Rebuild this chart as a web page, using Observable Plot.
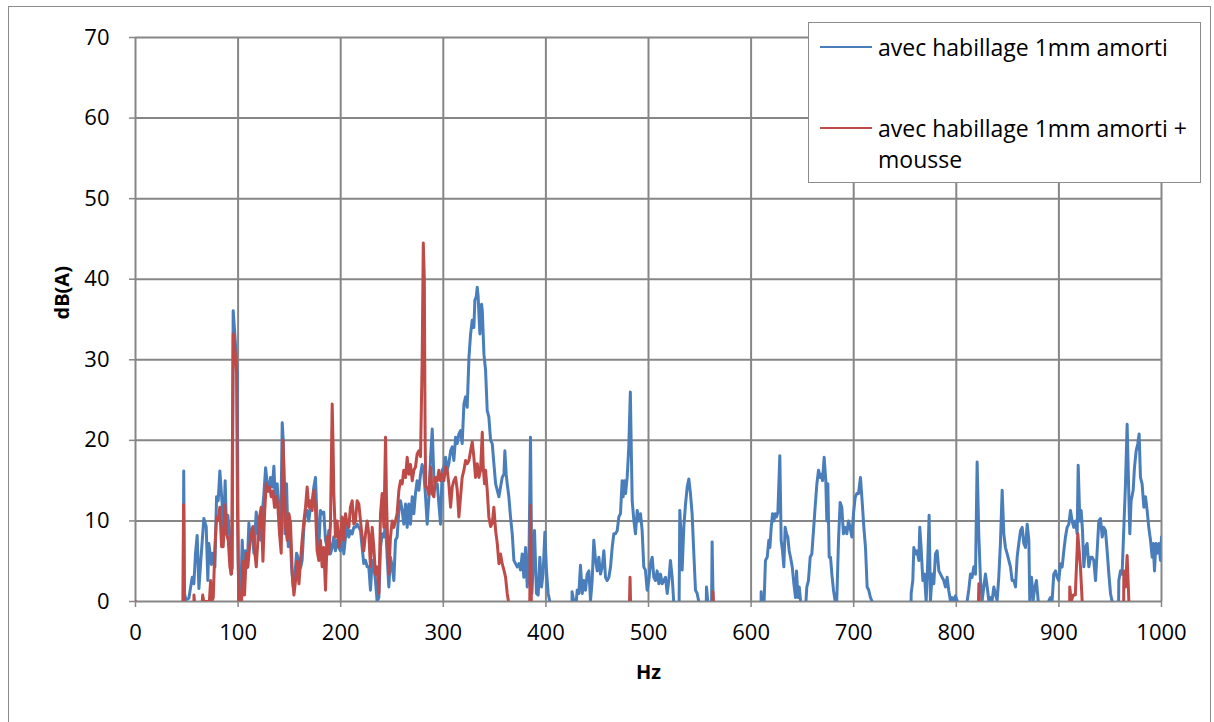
<!DOCTYPE html>
<html>
<head>
<meta charset="utf-8">
<script src="https://cdn.jsdelivr.net/npm/d3@7"></script>
<script src="https://cdn.jsdelivr.net/npm/@observablehq/plot@0.6"></script>
<style>
  body { margin: 0; background: #fff; }
  #wrap { position: relative; width: 1214px; height: 722px; overflow: hidden; background: #fff; }
  #wrap svg { position: absolute; left: 0; top: 0; }
  #outer { position: absolute; left: 8px; top: 6px; width: 1203px; height: 740px; border: 1px solid #8c8c8c; box-sizing: border-box; pointer-events: none; }
  #legend { position: absolute; left: 808px; top: 22px; width: 393px; height: 161px; border: 1px solid #8c8c8c; background: #fff; box-sizing: border-box; font-family: "Open Sans", sans-serif; font-size: 23px; color: #000; }
  .swatch { position: absolute; left: 11px; width: 52px; height: 2px; }
  .label { position: absolute; left: 69px; line-height: 31px; white-space: pre; }
</style>
</head>
<body>
<div id="wrap">
  <div id="outer"></div>
  <div id="legend"></div>
</div>
<script>
// ---- data ----
const seriesNames = ["avec habillage 1mm amorti", "avec habillage 1mm amorti +\nmousse"];
const seriesColors = ["#4A7EBB", "#BE4B48"];
const xTicks = [0, 100, 200, 300, 400, 500, 600, 700, 800, 900, 1000];
const yTicks = [0, 10, 20, 30, 40, 50, 60, 70];
const xLabel = "Hz";
const yLabel = "dB(A)";

// [Hz, dB(A)] — values below 0 are outside the axis range (clipped)
const blueSeries = [
[0,-15],[45.5,-15],[46.5,0],[47,16.2],[47.8,1],[49,0.2],[52,0.4],[55.3,3],[56.9,2.2],[58.5,6],[60.1,8.2],[61.8,1.6],[63.4,4.6],[66.6,10.3],[68.9,9.3],[70.5,2.6],[71.5,7.2],[74.1,4.6],[75.4,6],[77.4,4.3],[79,13],[80.6,12.5],[82.2,16.2],[84.5,12],[85.8,8.4],[87.4,15],[88.7,8.4],[90,10.7],[91.7,8.4],[93,3.4],[94.3,4.2],[95.2,36.1],[96.5,33.7],[97.8,31.2],[99.1,28.4],[100.1,5],[100.8,0],[102.4,0],[104,7.6],[105.6,3],[107.2,6.3],[108.9,4.2],[110.5,9.7],[112.1,7.6],[113.8,9],[115.4,6],[117.7,11.1],[119.3,8.4],[120.3,10.5],[121.9,7.6],[123.5,10.9],[125.1,13.3],[126.8,16.6],[128.4,14.6],[130,13.7],[131.6,15.4],[133.3,14.2],[134.9,16.8],[136.5,11.7],[138.1,14.6],[139.8,10.9],[141.4,7.6],[143,22.2],[144,20],[145.6,8.4],[147.2,14.6],[148.9,6.8],[150.5,9.3],[152.1,4.3],[153.7,1.8],[155.4,3.4],[157,6],[159.3,5.1],[160.9,4.2],
[162.4,5.1],[164.1,9.2],[165.7,10.9],[167.3,11.3],[168.9,10],[170.5,11.7],[172.2,12.5],[173.8,14.2],[175.4,15.4],[177,10],[178.7,6.7],[180.3,11.3],[181.9,10.9],[183.5,11.1],[185.2,7.6],[186.8,6.7],[188.4,8.8],[190,5.9],[191.7,6.7],[193.3,8],[194.9,6.3],[196.5,7.6],[198.2,6.7],[199.8,6.3],[201.4,9.2],[203,5.9],[204.7,8],[206.3,9.2],[207.9,8],[209.5,8.8],[211.2,8.4],[212.8,9.2],[214.4,9.2],[216,9.6],[217.7,9.2],[219.3,8.8],[220.9,6.7],[222.5,4.7],[224.2,5.1],[225.8,4.3],[227.4,4.3],[229,1.4],[230.7,5.1],[232.3,4.3],[233.9,2.6],[235.5,0],[237.2,0.5],[238.8,6.7],[240.4,8.4],[242.1,8],[243.7,9.6],[245.3,5.5],[246.9,1.8],[248.5,5.5],[250.2,4.3],[251.8,2.6],[253.4,7.6],[255,8],[256.7,11.3],[258.3,12.5],[259.9,11.3],[261.5,9.6],[263.2,12.1],[264.8,9.2],[266.4,12.1],[268,9.6],[269.7,13],[271.3,10.9],[272.9,13.4],[274.5,15],[276.2,13.8],[277.8,15.8],[279.4,17],[281,16],
[282.7,13],[284.3,9.6],[286,13],[287.6,17.9],[289.2,21.4],[290.8,15.4],[292.4,14.2],[294.1,14.6],[295.7,12.1],[297.3,9.6],[298.9,16.3],[300.6,16.7],[302.2,17.9],[303.8,16.3],[305.4,17.1],[307.1,18.7],[308.7,19.2],[310.3,17.5],[312,20.4],[313.6,19.6],[315.2,20.8],[316.8,21.2],[318.4,19.6],[320.1,24.5],[321.7,25.4],[323.3,24.1],[325,30.3],[326.6,33.2],[328.2,34.9],[329.8,34],[330.8,37.4],[332.1,37.8],[333.1,39],[334,37.8],[334.7,35.7],[335.7,33.2],[336.3,36.5],[337.3,36.9],[338,36.1],[339.6,30.7],[341.2,28.7],[342.8,23.7],[344.4,22.9],[346.1,20],[347.7,19.6],[349.3,17.1],[351,14.6],[352.6,13.8],[354.2,13],[355.8,14.2],[357.4,15.4],[359.1,15.8],[360,18.7],[361.3,15.8],[362.3,14.6],[363.9,13],[365.5,10.5],[367.2,8.4],[368.8,5.1],[370.4,4.7],[372,4.3],[373.7,4.7],[375.3,3.9],[376.9,5.9],[378.5,3],[380.2,6.7],[381.8,1.8],[383.4,4.7],[385,20.4],[386.4,1],[388.9,8.8],[390.8,1],[392.5,0.8],[394.1,5.5],[395.7,1.8],[397.3,3.5],[399,8.6],[400.6,3.8],[402.2,1],[403.8,0],[404.8,-15],
[424.5,-15],[425.5,1.2],[427.2,0],[429,-1],[430.5,1.4],[432.1,1],[433.7,4.5],[435.4,1],[437,2.6],[438.6,1.4],[440.2,3.4],[441.9,3.8],[443.5,0.1],[445.1,2.6],[446.7,7.6],[448.4,5.1],[450,3.8],[451.6,5.5],[453.2,3.4],[454.9,4.3],[456.5,6.3],[458.1,3],[459.7,2.6],[461.4,3],[463,4.3],[464.6,6.7],[466.2,8.4],[467.8,8.4],[469.5,8.8],[471.1,10.5],[472.7,10.9],[474.3,15],[475.3,13],[476.6,15],[477.6,13.4],[479.2,15.4],[480.8,19.2],[482.3,26],[483.2,19],[484.1,12.5],[485.7,10.1],[487.3,8.4],[489,11.3],[490.6,10],[492.2,10.9],[493.8,8.8],[495.4,4.3],[497,3.9],[498.7,1.4],[500.3,2.6],[501.9,4.7],[503.6,5.5],[505.2,3],[506.8,2.6],[508.4,3.8],[510.1,2.2],[511.7,3.4],[513.3,2.2],[514.9,2.6],[516.6,3],[518.2,1],[519.8,2.6],[521.4,5.1],[523.1,3],[524.7,-0.3],[526,-15],[529,-15],[530.5,11.3],[531.8,8],[532.8,3.9],[534.4,9.2],[536.1,12.1],[537.7,14.2],[539.3,15.2],[540.9,13.4],[542.5,10.9],[544.2,5.9],[545.8,1.4],[547.4,1],[549,0],[550,-15],[555,-15],[556.5,1.8],[557.8,0],[560.4,-0.5],[561.5,0],[562,7.4],[563,0],[564,-15],
[609,-15],[609.8,1.2],[610.8,-2],[612.4,-1],[614,5.1],[615.7,5.5],[617.3,7.6],[618.3,6.7],[619.6,9.2],[620.9,10.9],[622.2,10],[623.5,10.9],[624.8,10.5],[626.1,11.1],[628,18.1],[629.3,7.6],[630.6,6.3],[631.9,4.3],[633.2,9.2],[634.5,8.4],[635.8,8],[637.1,6.3],[638.4,5.5],[640.1,4.3],[641.7,2.2],[643.3,0.5],[644.3,3.8],[645.6,0.5],[646.9,1.8],[648.2,0.1],[649.8,-1],[653,-1],[654.3,1.8],[655.9,2.6],[657.6,5.5],[659.2,5.9],[660.8,8.8],[662.4,11.7],[664.1,14.6],[665.7,16.3],[667.3,15.4],[668.3,15.8],[669.6,15],[671.2,17.9],[672.8,15],[673.8,10],[674.8,14.6],[676.1,5.5],[677.4,5.5],[678.7,3.4],[680.3,1.4],[681.9,0.1],[683.5,0.1],[685.2,7.6],[686.8,12.3],[688.4,11.7],[690,8.4],[691.7,9.2],[693.3,8.4],[694.9,10],[696.5,9.2],[698.2,8],[699.8,10.9],[701.4,12.9],[703,13.4],[704.7,13.4],[706.6,15.4],[708.2,12.5],[709.9,9.2],[711.5,6.7],[713.1,1.8],[714.7,1.4],[716.3,0.5],[718,0],[719,-15],
[755,-15],[756,1],[757.6,2.6],[758.6,6.7],[760.2,5.9],[761.8,6.3],[763.5,5.1],[764.4,9.2],[765.7,6.7],[767.4,2.6],[769,3.4],[770.6,0],[772.2,5.1],[773.5,10.7],[774.8,0],[776.5,3.4],[778.1,2.2],[779.7,5.9],[781.3,6.3],[783,3.8],[784.6,3.4],[786.2,3],[787.8,2.6],[789.5,1.8],[791.1,3],[792.7,1.3],[794.3,0.1],[795.9,0.5],[797.6,0.1],[799.2,0.7],[800.8,0.1],[802,-1],[809,-1],[810.6,0.1],[812.2,1.5],[813.8,3.4],[815.4,3],[817.1,4.3],[818.7,3.4],[820.3,17.3],[821.9,8.4],[823.6,2.6],[825.2,0.1],[826.8,1.8],[828.4,3.4],[830.1,1.8],[831.7,0.1],[833.3,0.5],[834.9,0.1],[836.6,1.8],[838.2,0.9],[839.8,0.1],[841.4,3],[843,7.2],[844.7,13.8],[846.3,8.4],[847.9,6.7],[849.6,5.9],[851.2,5.1],[852.8,4.3],[854.4,2.6],[856.1,2.6],[857.7,1.8],[859.3,5.5],[860.9,7.2],[862.6,8.8],[864.2,9.2],[865.8,7.2],[867.4,6.7],[869.1,9.6],[870.7,7.6],[871.6,0.1],[873.3,3],[874.9,0.1],[876.5,1.8],[878.1,2.6],[879.8,0.1],[882,-1],[889,-1],[890.2,0.1],[891.8,0.5],[893.4,0.1],[895,3.4],[896.7,3.8],[898.3,3],[899.9,2.6],[901.5,4.7],[903.2,4.3],[904.8,6.3],[906.4,8],[908,9.2],[909.7,9.6],[911.3,11.3],[912.9,10],[914.5,9.2],[916.2,10],[917.8,8.4],[918.8,16.9],[920.4,10],[921.7,11.3],[923,8.8],[924.3,4.3],[925.9,6.7],[927.5,7.2],[929.2,4.3],[930.8,5.5],[932.4,5.5],[934,5.1],[935.7,2.6],[937.3,6.3],[938.9,10],[940.5,10.3],[942.2,8],[943.8,9.2],[945.4,8.8],[947,6.3],[948.7,3.4],[950.3,1],[951.9,0],[953,-15],[957,-15],[958.4,2.6],[960,3.8],[961.6,3.4],[963.3,9.2],[964.9,14.6],[966.5,22],[968.2,13],[969.1,8.4],[970.4,12.5],[972.4,13.8],[973.7,16.7],[975.3,18.7],[976.9,19.6],[978.2,20.8],[979.5,15.4],[981.1,14.6],[982.8,11.7],[984.4,13],[986,11.3],[987.6,9.2],[989.3,7.6],[990.9,5.5],[991.9,7.2],[993.2,3.8],[994.5,7.2],[995.8,6],[997.4,7.2],[999,5.1],[1000,8]
];

const redSeries = [
[0,0],[1,-15],[45.5,-15],[46.3,0],[46.8,12],[47.4,0],[48.2,-15],[56,-15],[57,0.8],[58,-1],[64.5,-1],[65.5,0.8],[66.5,0],[72,0],[73.2,2.6],[74.5,0],[75.8,0.5],[77.4,6.8],[79,10.5],[80.6,10.1],[82.2,11.7],[83.9,6.8],[85.5,6.8],[87.1,12],[88.7,8.4],[90.4,7.6],[92,4.3],[93.6,3.4],[95.2,33.2],[96.9,31.2],[98.5,28.4],[99.5,10],[100.8,0],[103.4,0],[104.7,5],[106.3,0.8],[107.9,6],[109.5,4.3],[111.2,6.8],[112.8,8.4],[114.4,9.3],[116,6.4],[117.7,4.3],[119.3,7.6],[120.9,10.5],[122.5,11.7],[124.2,5],[125.8,10.9],[127.4,14.6],[129,13.7],[130.7,14.2],[132.3,13],[133.9,13.7],[135.5,11.7],[137.2,13],[138.8,11.7],[140.4,8.4],[142,6],[143.7,20],[144.6,16.6],[146.3,9.3],[147.9,7.6],[149.5,10.9],[151.1,9.7],[152.8,3.4],[154.4,0.8],[156,2.6],[157.6,5],[159.3,2.2],[160.9,5.1],
[162.4,7.6],[164.1,10],[165.7,11.7],[167.3,14.2],[168.9,11.7],[170.5,12.5],[172.2,11.3],[173.8,13.8],[175.4,11.7],[177,6.3],[178.7,5.1],[180.3,7.6],[181.9,4.3],[183.5,6.7],[185.2,1.4],[186.8,8],[188.4,5.9],[190,9.6],[191.7,24.5],[192.6,19.2],[193.3,13.4],[194.9,8],[196.5,10],[198.2,6.7],[199.8,8.4],[201.4,10.5],[203,7.6],[204.7,10.9],[206.3,9.6],[207.9,9.2],[209.5,11.7],[211.2,12.5],[212.8,9.6],[214.4,10],[216,12.5],[217.7,12.1],[219.3,10],[220.9,8],[222.5,6.3],[224.2,8.4],[225.8,10],[227.4,8.4],[229,4.3],[230.7,9.2],[232.3,6.7],[233.9,3.4],[235.5,4.3],[237.2,1],[238.8,10.9],[240.4,13.4],[242.1,9.2],[243.7,20.4],[244.6,13],[245.9,6.7],[246.9,3.4],[248.5,8],[250.2,10],[251.8,9.2],[253.4,10],[255,10.9],[256.7,13.8],[258.3,15],[259.9,14.6],[261.5,16.3],[263.2,15.4],[264.8,17.9],[266.4,15.8],[268,17],[269.7,15],[271.3,16.3],[272.9,16.7],[274.5,18.3],[276.2,18.7],[277.8,18],[279.4,30],[280.5,44.5],[281.5,40],[282.3,20],[282.9,14.2],
[284.3,14.2],[286,13.2],[287.6,16.7],[289.2,13.4],[290.8,13],[292.4,15.4],[294.1,15],[295.7,16.3],[297.3,15],[298.9,15.8],[300.6,15],[302.2,16.7],[303.8,16.3],[305.4,14.6],[307.1,11.7],[308.7,14.2],[310.3,15],[312,15.4],[313.6,13.8],[315.2,10.5],[316.8,13],[318.4,15.4],[320.1,16.3],[321.7,17.5],[323.3,17.1],[325,17.5],[326.6,18.7],[328.2,19.8],[329.8,17.9],[331.4,15.4],[333.1,17.1],[334.7,15.4],[336.3,16.3],[338,21],[338.9,16.7],[340.2,14.6],[341.2,16.3],[342.8,13.8],[344.4,10.5],[346.1,9.3],[347.7,9.7],[349.3,11.7],[351,8.8],[352.6,7.2],[354.2,4.7],[355.8,5.9],[357.4,4.7],[359.1,3.9],[360.7,3],[362.3,1],[363.9,-0.3],[365,-15],
[383.5,-15],[384.3,0],[385,11.9],[385.8,0],[386.5,-15],[481,-15],[481.5,0],[482,3],[482.5,0],[483,-15],[562,-15],[562.4,0],[562.8,1.2],[563.2,0],[563.6,-15],[821,-15],[821.6,0],[822,2.2],[822.4,0],[823,-15],[909.5,-15],[910.6,1.8],[912,0],[914,0.8],[916,0.8],[918.4,8.4],[921,4.3],[922.7,0],[923.5,-15],[962.5,-15],[963.3,3.8],[964.9,1.8],[966.5,5.7],[968.2,0],[969,-15],[1000,-15]
];

// ---- chart ----
const toRows = (arr) => arr.map(([hz, db]) => ({hz, db}));
const blueRows = toRows(blueSeries);
const redRows = toRows(redSeries);
const gridColor = "#868686";

const chart = Plot.plot({
  width: 1214,
  height: 722,
  marginLeft: 135,
  marginRight: 53,
  marginTop: 37,
  marginBottom: 121,
  style: { fontFamily: "'Open Sans', sans-serif", fontSize: "22px", color: "#000", background: "transparent", overflow: "visible" },
  x: { domain: [0, 1000], label: null },
  y: { domain: [0, 70], label: null },
  marks: [
    Plot.gridX(xTicks, { stroke: gridColor, strokeOpacity: 1, strokeWidth: 2 }),
    Plot.gridY(yTicks, { stroke: gridColor, strokeOpacity: 1, strokeWidth: 2 }),
    Plot.axisX(xTicks, { tickSize: 6, tickPadding: 17, stroke: gridColor, strokeWidth: 1.5, label: null, fontSize: 22, tickFormat: d => String(d) }),
    Plot.axisY(yTicks, { tickSize: 6, tickPadding: 20, stroke: gridColor, strokeWidth: 1.5, label: null, fontSize: 22, tickFormat: d => String(d) }),
    Plot.line(blueRows, { x: "hz", y: "db", stroke: seriesColors[0], strokeWidth: 3, clip: true, strokeLinejoin: "round" }),
    Plot.line(redRows, { x: "hz", y: "db", stroke: seriesColors[1], strokeWidth: 3, clip: true, strokeLinejoin: "round" }),
    Plot.text([xLabel], { text: d => d, frameAnchor: "bottom", dy: 77, fontWeight: "bold", fontSize: 20 }),
    Plot.text([yLabel], { text: d => d, frameAnchor: "left", dx: -73, rotate: -90, fontWeight: "bold", fontSize: 20 })
  ]
});

const wrap = document.getElementById("wrap");
wrap.insertBefore(chart, wrap.firstChild);

// legend
const legend = document.getElementById("legend");
const itemTops = [9, 90];
const swatchTops = [23, 104];
seriesNames.forEach((name, i) => {
  const sw = document.createElement("div");
  sw.className = "swatch";
  sw.style.top = swatchTops[i] + "px";
  sw.style.background = seriesColors[i];
  legend.appendChild(sw);
  const lab = document.createElement("div");
  lab.className = "label";
  lab.style.top = itemTops[i] + "px";
  lab.textContent = name;
  legend.appendChild(lab);
});
</script>
</body>
</html>
